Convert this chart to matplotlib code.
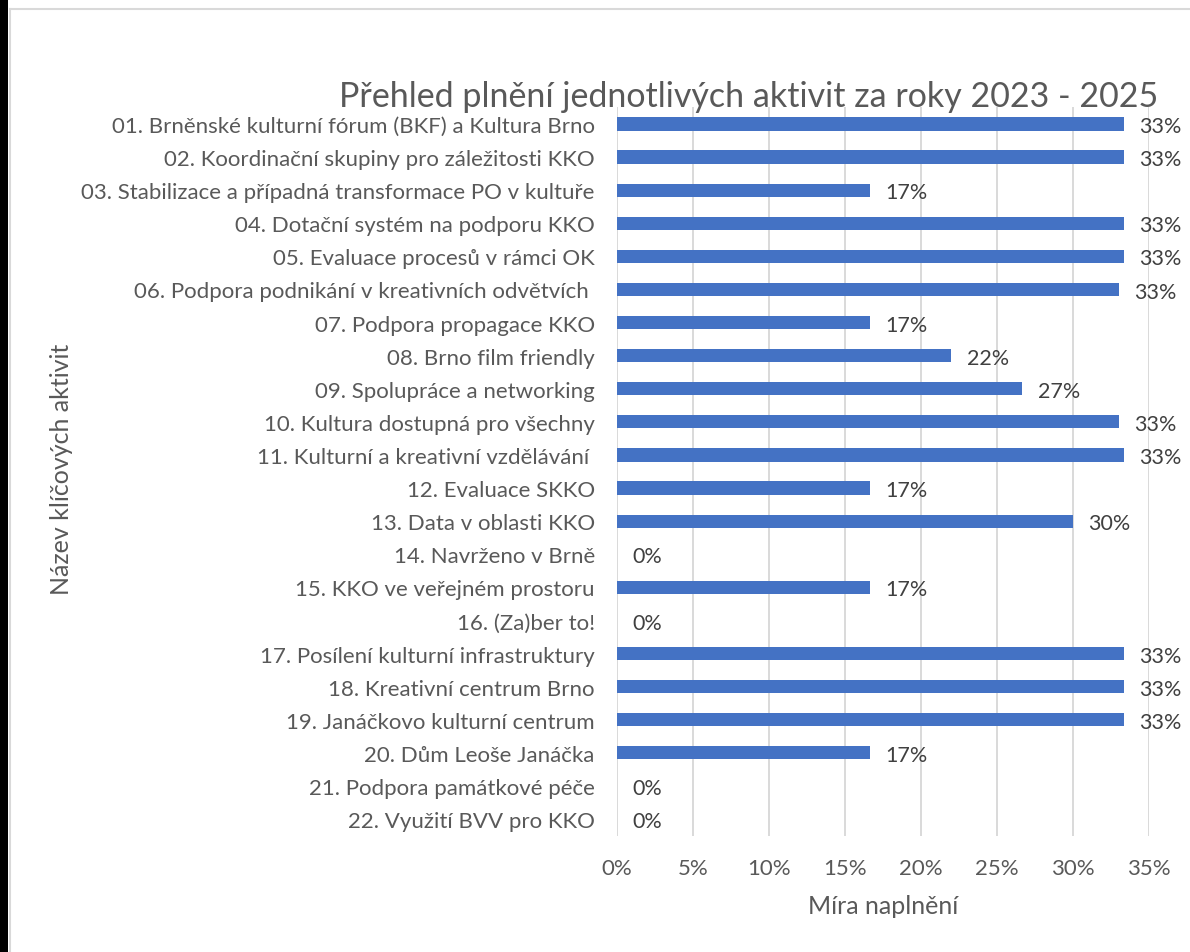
import matplotlib

matplotlib.use("Agg")
import matplotlib.pyplot as plt
from matplotlib.lines import Line2D
from matplotlib.patches import Rectangle
from matplotlib.ticker import FuncFormatter, MultipleLocator

plt.rcParams["font.family"] = ["Lato", "DejaVu Sans"]

activities = [
    "01. Brněnské kulturní fórum (BKF) a Kultura Brno",
    "02. Koordinační skupiny pro záležitosti KKO",
    "03. Stabilizace a případná transformace PO v kultuře",
    "04. Dotační systém na podporu KKO",
    "05. Evaluace procesů v rámci OK",
    "06. Podpora podnikání v kreativních odvětvích ",
    "07. Podpora propagace KKO",
    "08. Brno film friendly",
    "09. Spolupráce a networking",
    "10. Kultura dostupná pro všechny",
    "11. Kulturní a kreativní vzdělávání ",
    "12. Evaluace SKKO",
    "13. Data v oblasti KKO",
    "14. Navrženo v Brně",
    "15. KKO ve veřejném prostoru",
    "16. (Za)ber to!",
    "17. Posílení kulturní infrastruktury",
    "18. Kreativní centrum Brno",
    "19. Janáčkovo kulturní centrum",
    "20. Dům Leoše Janáčka",
    "21. Podpora památkové péče",
    "22. Využití BVV pro KKO",
]
fulfilment = [
    1 / 3, 1 / 3, 1 / 6, 1 / 3, 1 / 3, 0.33, 1 / 6, 0.22, 0.2667, 0.33, 1 / 3,
    1 / 6, 0.30, 0.0, 1 / 6, 0.0, 1 / 3, 1 / 3, 1 / 3, 1 / 6, 0.0, 0.0,
]
x_max = 0.35
x_step = 0.05

text_gray = "#595959"
label_gray = "#404040"
bar_blue = "#4472C4"

fig = plt.figure(figsize=(11.9, 9.53), dpi=100)
ax = fig.add_axes([0.5185, 0.1222, 0.4470, 0.764])

positions = range(len(activities))
ax.barh(positions, fulfilment, height=0.4, color=bar_blue, linewidth=0, zorder=3)

for pos, value in zip(positions, fulfilment):
    ax.annotate(f"{value:.0%}", xy=(value, pos), xytext=(11, -1.5),
                textcoords="offset points", ha="left", va="center",
                fontsize=15.5, color=label_gray)

ax.set_xlim(0, x_max)
ax.set_ylim(len(activities) - 0.5, -0.5)
ax.xaxis.set_major_locator(MultipleLocator(x_step))
ax.xaxis.set_major_formatter(FuncFormatter(lambda v, _: f"{v:.0%}"))
ax.set_yticks(list(positions), activities)
ax.tick_params(axis="y", length=0, pad=16, labelsize=16, labelcolor=text_gray)
ax.tick_params(axis="x", length=0, pad=16, labelsize=16, labelcolor=text_gray)
ax.grid(axis="x", color="#D9D9D9", linewidth=1.4, zorder=0)
for spine in ax.spines.values():
    spine.set_visible(False)

ax.set_xlabel("Míra naplnění", fontsize=18, color=text_gray, labelpad=12)
fig.text(0.052, 0.507, "Název klíčových aktivit", rotation=90, ha="center",
         va="center", fontsize=18, color=text_gray)
fig.text(0.629, 0.898, "Přehled plnění jednotlivých aktivit za roky 2023 - 2025",
         ha="center", va="center", fontsize=24.5, color=text_gray)

# screenshot frame: dark strip at the left and light chart border
fig.add_artist(Rectangle((0, 0), 8 / 1190, 1, transform=fig.transFigure,
                         color="black", lw=0))
fig.add_artist(Line2D([9.5 / 1190, 9.5 / 1190], [0, 1 - 10 / 953],
                      transform=fig.transFigure, color="#D9D9D9", lw=1.5))
fig.add_artist(Line2D([9.5 / 1190, 1], [1 - 10 / 953, 1 - 10 / 953],
                      transform=fig.transFigure, color="#D9D9D9", lw=1.5))

fig.savefig("out.png", dpi=100)
plt.close(fig)
